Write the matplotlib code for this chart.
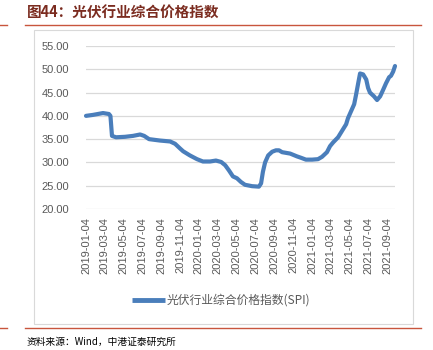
import matplotlib
matplotlib.use("Agg")
import matplotlib.pyplot as plt
import matplotlib.dates as mdates
from matplotlib.lines import Line2D
from matplotlib.patches import Rectangle
import pandas as pd

plt.rcParams['font.family'] = ['Liberation Sans', 'Noto Sans CJK SC', 'DejaVu Sans']

title = "图44：光伏行业综合价格指数"
series_name = "光伏行业综合价格指数(SPI)"
source = "资料来源：Wind，中港证泰研究所"

dates = [
    "2019-01-04", "2019-01-26", "2019-02-28", "2019-03-19", "2019-03-24",
    "2019-03-29", "2019-04-11", "2019-05-10", "2019-06-05", "2019-06-28",
    "2019-07-11", "2019-07-27", "2019-08-31", "2019-10-03", "2019-10-19",
    "2019-11-04", "2019-11-14", "2019-12-06", "2019-12-29", "2020-01-17",
    "2020-02-09", "2020-02-28", "2020-03-16", "2020-03-29", "2020-04-10",
    "2020-04-23", "2020-05-06", "2020-05-19", "2020-06-01", "2020-06-24",
    "2020-07-16", "2020-07-23", "2020-07-29", "2020-08-05", "2020-08-15",
    "2020-08-28", "2020-09-09", "2020-09-19", "2020-09-29", "2020-10-25",
    "2020-11-16", "2020-11-29", "2020-12-15", "2021-01-04", "2021-01-23",
    "2021-02-05", "2021-02-21", "2021-03-03", "2021-03-13", "2021-03-29",
    "2021-04-11", "2021-04-24", "2021-04-30", "2021-05-10", "2021-05-20",
    "2021-05-26", "2021-06-02", "2021-06-08", "2021-06-18", "2021-06-28",
    "2021-07-04", "2021-07-10", "2021-07-23", "2021-08-02", "2021-08-12",
    "2021-08-21", "2021-08-31", "2021-09-10", "2021-09-16", "2021-09-23",
    "2021-09-29",
]
spi = [
    40.0, 40.2, 40.6, 40.4, 40.0,
    35.7, 35.4, 35.5, 35.7, 36.0,
    35.7, 35.0, 34.7, 34.5, 34.0,
    33.0, 32.4, 31.5, 30.7, 30.2,
    30.2, 30.4, 30.1, 29.4, 28.3,
    27.0, 26.6, 25.8, 25.2, 24.9,
    24.8, 25.5, 28.0, 30.0, 31.5,
    32.3, 32.6, 32.6, 32.2, 31.9,
    31.3, 31.0, 30.6, 30.6, 30.7,
    31.2, 32.2, 33.5, 34.3, 35.4,
    36.8, 38.2, 39.5, 41.0, 42.5,
    44.5, 47.0, 49.1, 48.9, 47.8,
    46.0, 45.0, 44.2, 43.4, 44.2,
    45.5, 47.0, 48.3, 48.6, 49.5,
    50.7,
]
y_ticks = [20, 25, 30, 35, 40, 45, 50, 55]

W, H = 433, 350
fig = plt.figure(figsize=(W / 100, H / 100), dpi=100)


def fx(px):
    return px / W


def fy(py):
    return 1 - py / H


title_color = "#7B2C20"
rule_color = "#C8553D"
text_gray = "#595959"
line_blue = "#4A7EBB"

# header / footer rules
for y in (25, 328):
    fig.add_artist(Line2D([fx(25), fx(421)], [fy(y), fy(y)], color=rule_color, lw=1.0))
    fig.add_artist(Line2D([fx(0), fx(7)], [fy(y), fy(y)], color=rule_color, lw=1.0))

fig.text(fx(27), fy(13), title, color=title_color, fontsize=10.5, fontweight="bold",
         family=['Noto Sans CJK SC', 'DejaVu Sans'], va="center", ha="left")
fig.text(fx(27), fy(342), source, color="black", fontsize=7, style="italic",
         family=['Noto Sans CJK SC', 'DejaVu Sans'], va="center", ha="left")

# chart frame
fig.add_artist(Rectangle((fx(34), fy(323.5)), fx(413) - fx(34), fy(29.5) - fy(323.5),
                         transform=fig.transFigure, fill=False, edgecolor="#D9D9D9", lw=0.8))

ax = fig.add_axes([fx(86), fy(209), fx(395) - fx(86), fy(46) - fy(209)])
x = pd.to_datetime(dates)
ax.plot(x, spi, color=line_blue, lw=3.0, solid_capstyle="round", solid_joinstyle="round",
        zorder=3, clip_on=False)

ax.set_ylim(20, 55)
ax.set_yticks(y_ticks)
ax.set_yticklabels([f"{v:.2f}" for v in y_ticks])
ax.set_xlim(x[0], x[-1])
ax.xaxis.set_major_locator(mdates.MonthLocator(bymonth=[1, 3, 5, 7, 9, 11], bymonthday=4))
ax.xaxis.set_major_formatter(mdates.DateFormatter("%Y-%m-%d"))
for lbl in ax.get_xticklabels():
    lbl.set_rotation(90)

ax.grid(axis="y", color="#D9D9D9", lw=0.9, zorder=0)
ax.set_axisbelow(True)
for s in ax.spines.values():
    s.set_visible(False)
ax.tick_params(axis="both", length=0, labelsize=8, colors=text_gray)
ax.tick_params(axis="y", pad=12)
ax.tick_params(axis="x", pad=6)
ax.set_facecolor("none")

# legend
fig.add_artist(Line2D([fx(132), fx(165)], [fy(300), fy(300)], color=line_blue, lw=3.5,
                      solid_capstyle="butt"))
fig.text(fx(167), fy(300), series_name, color=text_gray, fontsize=8.5,
         family=['Noto Sans CJK SC', 'DejaVu Sans'], va="center", ha="left")

fig.savefig("out.png", dpi=100)
